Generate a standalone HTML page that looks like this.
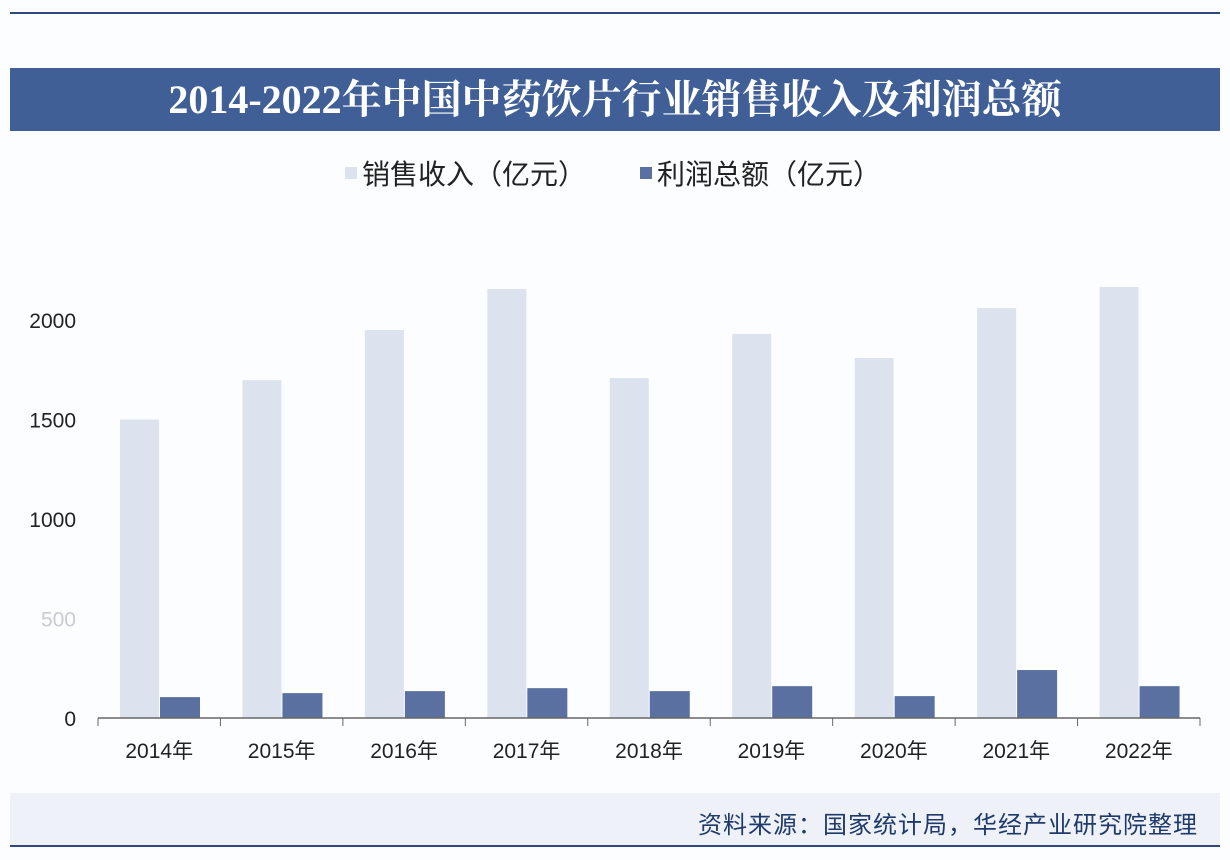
<!DOCTYPE html>
<html><head><meta charset="utf-8">
<style>
body{margin:0;background:#fff;font-family:"Liberation Sans","Noto Sans CJK SC",sans-serif;}
#wrap{position:relative;width:1230px;height:860px;overflow:hidden;background:#fcfdfe;}
</style></head>
<body>
<div id="wrap">
<div style="position:absolute;left:10px;top:12px;width:1210px;height:2px;background:#2e4a7c"></div>
<div style="position:absolute;left:10px;top:68px;width:1210px;height:63px;background:#3f5f96;color:#fff;font:bold 40px 'Liberation Serif','Noto Serif CJK SC',serif;text-align:center;line-height:63px">2014-2022年中国中药饮片行业销售收入及利润总额</div>
<div style="position:absolute;left:10px;top:793px;width:1210px;height:52px;background:#eef2f8"></div>
<div style="position:absolute;right:32px;top:805px;font-size:24px;color:#1f3a6a;letter-spacing:1px">资料来源：国家统计局，华经产业研究院整理</div>
<div style="position:absolute;left:10px;top:845px;width:1210px;height:2px;background:#2e4a7c"></div>
<svg id="chart" width="1230" height="860" style="position:absolute;left:0;top:0"></svg>
</div>
<script>
const categories=["2014年","2015年","2016年","2017年","2018年","2019年","2020年","2021年","2022年"];
const salesValues=[1500,1698,1950,2156,1708,1930,1809,2060,2166];
const profitValues=[105,125,135,150,135,160,110,241,160];
const yTicks=[0,500,1000,1500,2000];
const seriesNames=["销售收入（亿元）","利润总额（亿元）"];
const NS="http://www.w3.org/2000/svg";
const svg=document.getElementById('chart');
const x0=98,x1=1200,y0=718,yScale=398/2000;
const catW=(x1-x0)/categories.length;
const yPos=v=>y0-v*yScale;
const xPos=i=>x0+i*catW;
function mk(t,a){const e=document.createElementNS(NS,t);for(const k in a)e.setAttribute(k,a[k]);svg.appendChild(e);return e;}
yTicks.forEach(v=>{
  const t=mk('text',{x:76,y:yPos(v)+8,'text-anchor':'end','font-size':21,fill:v===500?'#c8ccd4':'#222'});
  t.textContent=v;
  
  
});
categories.forEach((c,i)=>{
  const s=mk('rect',{x:xPos(i)+22,y:yPos(salesValues[i]),width:39,height:salesValues[i]*yScale,fill:'#dde3ee'});
  
  
  const p=mk('rect',{x:xPos(i)+62,y:yPos(profitValues[i]),width:40,height:profitValues[i]*yScale,fill:'#5a70a0'});
  
  
  const t=mk('text',{x:xPos(i)+catW/2,y:758,'text-anchor':'middle','font-size':21,fill:'#222'});
  t.textContent=c;
  
  
});
for(let i=0;i<=categories.length;i++){
  const tk=mk('line',{x1:xPos(i),x2:xPos(i),y1:y0,y2:y0+8,stroke:'#666','stroke-width':1});
  
  
}
const ax=mk('line',{x1:x0,x2:x1,y1:y0,y2:y0,stroke:'#666','stroke-width':1.5});


const lg=[[345,'#dde3ee'],[640,'#5a70a0']];
lg.forEach((l,i)=>{
  const r=mk('rect',{x:l[0],y:167,width:12,height:12,fill:l[1]});
  
  
  const t=mk('text',{x:l[0]+17,y:184,'font-size':28,fill:'#222'});
  t.textContent=seriesNames[i];
  
  
});
</script>
</body></html>
